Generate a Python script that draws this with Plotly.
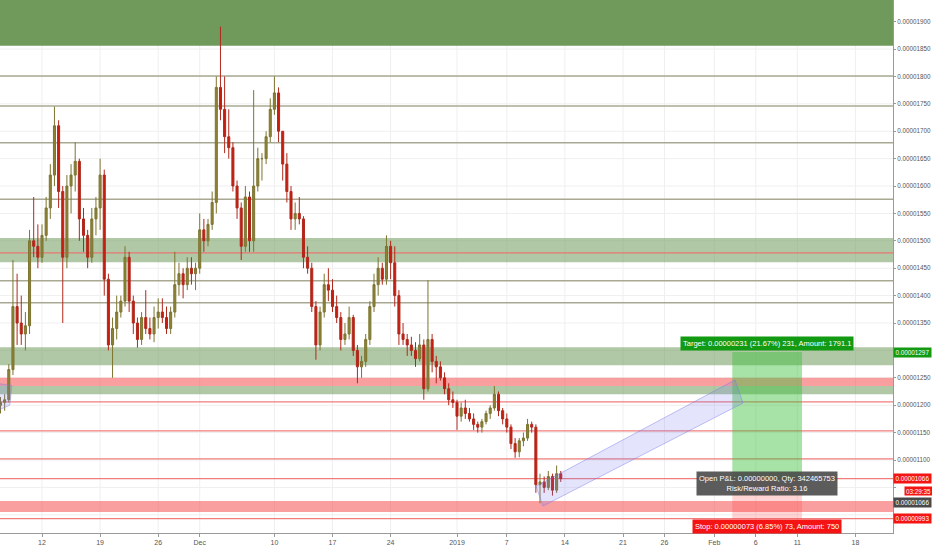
import pandas as pd
import plotly.graph_objects as go

# 12h candles, prices in satoshi (1e-8)
candle_start = "2018-11-07 00:00"
opens = [1200, 1205, 1210, 1265, 1380, 1350, 1330, 1345, 1500, 1490, 1470, 1510, 1560, 1620, 1710, 1590,
         1470, 1600, 1620, 1645, 1540, 1510, 1470, 1540, 1560, 1620, 1430, 1310, 1340, 1370, 1390, 1470,
         1390, 1350, 1320, 1360, 1340, 1330, 1360, 1370, 1360, 1340, 1370, 1420, 1440, 1420, 1450, 1440,
         1450, 1520, 1500, 1530, 1570, 1780, 1740, 1690, 1670, 1600, 1560, 1490, 1580, 1500, 1600, 1650,
         1650, 1690, 1740, 1770, 1700, 1640, 1590, 1540, 1550, 1540, 1470, 1450, 1380, 1310, 1370, 1420,
         1410, 1380, 1360, 1320, 1330, 1360, 1300, 1270, 1280, 1320, 1380, 1420, 1450, 1430, 1490, 1460,
         1400, 1330, 1320, 1310, 1300, 1285, 1310, 1230, 1320, 1280, 1270, 1250, 1230, 1210, 1205, 1180,
         1195, 1185, 1175, 1165, 1160, 1170, 1185, 1195, 1220, 1190, 1175, 1160, 1130, 1115, 1135, 1140,
         1165, 1160, 1055, 1060, 1050, 1070, 1045, 1075]
highs = [1215, 1220, 1275, 1465, 1440, 1400, 1370, 1520, 1580, 1530, 1530, 1580, 1640, 1745, 1720, 1600,
         1620, 1640, 1680, 1650, 1560, 1520, 1560, 1580, 1650, 1630, 1440, 1360, 1400, 1400, 1490, 1480,
         1400, 1360, 1370, 1410, 1360, 1380, 1395, 1395, 1380, 1380, 1480, 1460, 1450, 1470, 1470, 1460,
         1550, 1540, 1540, 1590, 1800, 1891, 1800, 1740, 1680, 1610, 1570, 1600, 1590, 1775, 1670, 1660,
         1700, 1760, 1800, 1780, 1700, 1660, 1600, 1570, 1580, 1545, 1490, 1460, 1390, 1380, 1440, 1450,
         1430, 1400, 1370, 1350, 1380, 1365, 1310, 1290, 1330, 1390, 1440, 1470, 1460, 1510, 1500, 1490,
         1410, 1350, 1330, 1325, 1315, 1330, 1320, 1428, 1330, 1290, 1280, 1260, 1240, 1225, 1210, 1205,
         1210, 1195, 1185, 1170, 1175, 1190, 1200, 1235, 1225, 1195, 1185, 1165, 1140, 1140, 1150, 1175,
         1170, 1165, 1075, 1070, 1080, 1075, 1090, 1080]
lows = [1185, 1190, 1205, 1255, 1310, 1310, 1300, 1330, 1470, 1450, 1460, 1500, 1540, 1600, 1560, 1350,
        1450, 1550, 1590, 1500, 1480, 1450, 1460, 1510, 1520, 1400, 1300, 1250, 1320, 1360, 1380, 1370,
        1330, 1305, 1310, 1330, 1320, 1315, 1340, 1350, 1330, 1330, 1360, 1400, 1395, 1410, 1420, 1410,
        1440, 1480, 1490, 1520, 1550, 1720, 1660, 1650, 1590, 1540, 1465, 1480, 1480, 1480, 1590, 1610,
        1640, 1680, 1730, 1680, 1610, 1570, 1520, 1520, 1530, 1450, 1440, 1370, 1283, 1300, 1360, 1390,
        1370, 1350, 1300, 1310, 1320, 1290, 1240, 1250, 1270, 1310, 1370, 1400, 1420, 1420, 1430, 1380,
        1310, 1310, 1290, 1290, 1270, 1280, 1210, 1225, 1260, 1240, 1245, 1220, 1200, 1195, 1155, 1170,
        1175, 1170, 1155, 1150, 1150, 1165, 1175, 1190, 1180, 1165, 1150, 1120, 1104, 1105, 1125, 1135,
        1150, 1040, 1021, 1040, 1045, 1035, 1040, 1060]
closes = [1205, 1210, 1265, 1380, 1350, 1330, 1345, 1500, 1490, 1470, 1510, 1560, 1620, 1710, 1590, 1470,
          1600, 1620, 1645, 1540, 1510, 1470, 1540, 1560, 1620, 1430, 1310, 1340, 1370, 1390, 1470, 1390,
          1350, 1320, 1360, 1340, 1330, 1360, 1370, 1360, 1340, 1370, 1420, 1440, 1420, 1450, 1440, 1450,
          1520, 1500, 1530, 1570, 1780, 1740, 1690, 1670, 1600, 1560, 1490, 1580, 1500, 1600, 1650, 1650,
          1690, 1740, 1770, 1700, 1640, 1590, 1540, 1550, 1540, 1470, 1450, 1380, 1310, 1370, 1420, 1410,
          1380, 1360, 1320, 1330, 1360, 1300, 1270, 1280, 1320, 1380, 1420, 1450, 1430, 1490, 1460, 1400,
          1330, 1320, 1310, 1300, 1285, 1310, 1230, 1320, 1280, 1270, 1250, 1230, 1210, 1205, 1180, 1195,
          1185, 1175, 1165, 1160, 1170, 1185, 1195, 1220, 1190, 1175, 1160, 1130, 1115, 1135, 1140, 1165,
          1160, 1055, 1060, 1050, 1070, 1045, 1075, 1066]

# drawn levels
grey_levels = [1801, 1746, 1679, 1576, 1427, 1387]
red_levels = [1478, 1206, 1153, 1102, 1066, 993]
green_zones = [(1856, 1990), (1461, 1505), (1273, 1306), (1220, 1235)]
red_zones = [(1235, 1250), (1005, 1025)]

# long position tool
pos_start, pos_end = "2019-02-03 04:00", "2019-02-11 13:40"
pos_mid = "2019-02-07 08:50"
entry, target, stop = 1066, 1297, 993

# channels
channel_x = ["2019-01-10 12:30", "2019-01-11 08:40", "2019-02-04 11:00", "2019-02-03 11:45", "2019-01-10 12:30"]
channel_y = [1052, 1016, 1204, 1246, 1052]
old_channel_x = ["2018-11-06 00:00", "2018-11-08 09:00", "2018-11-08 03:00", "2018-11-06 00:00", "2018-11-06 00:00"]
old_channel_y = [1241, 1236, 1200, 1186, 1241]

x_tick_dates = ["2018-11-12", "2018-11-19", "2018-11-26", "2018-12-01", "2018-12-10", "2018-12-17",
                "2018-12-24", "2019-01-01", "2019-01-07", "2019-01-14", "2019-01-21", "2019-01-26",
                "2019-02-01", "2019-02-06", "2019-02-11", "2019-02-18"]
x_tick_text = ["12", "19", "26", "Dec", "10", "17", "24", "2019", "7", "14", "21", "26",
               "Feb", "6", "11", "18"]
y_tick_vals = list(range(1000, 1951, 50))
hidden_ticks = [1000, 1050, 1300]  # covered by price labels
y_tick_text = ["" if v in hidden_ticks else f"0.{v:08d}" for v in y_tick_vals]

FONT = "Liberation Sans, Arial, sans-serif"
GRID = "#efefef"
times = pd.date_range(candle_start, periods=len(closes), freq="12h")

fig = go.Figure()
fig.add_trace(go.Candlestick(
    x=times, open=opens, high=highs, low=lows, close=closes,
    increasing=dict(line=dict(color="#7c7430", width=1), fillcolor="#8e8233"),
    decreasing=dict(line=dict(color="#b0281c", width=1), fillcolor="#c81d0e"),
    whiskerwidth=0, hoverinfo="skip", showlegend=False))

fig.add_trace(go.Scatter(x=old_channel_x, y=old_channel_y, mode="lines", fill="toself",
                         fillcolor="rgba(120,120,240,0.2)", line=dict(color="rgba(120,120,230,0.4)", width=1),
                         hoverinfo="skip", showlegend=False))
fig.add_trace(go.Scatter(x=channel_x, y=channel_y, mode="lines", fill="toself",
                         fillcolor="rgba(120,120,240,0.2)", line=dict(color="rgba(120,120,230,0.45)", width=1),
                         hoverinfo="skip", showlegend=False))

shapes = []
# grid drawn as shapes so the zones cover it
for d in x_tick_dates:
    shapes.append(dict(type="line", xref="x", x0=d, x1=d, yref="paper", y0=0, y1=1,
                       line=dict(color=GRID, width=1), layer="below"))
for v in y_tick_vals:
    shapes.append(dict(type="line", xref="paper", x0=0, x1=1, yref="y", y0=v, y1=v,
                       line=dict(color=GRID, width=1), layer="below"))
for i, (lo, hi) in enumerate(green_zones):
    col = "#6f9a5b" if i == 0 else "rgba(111,154,91,0.55)"
    shapes.append(dict(type="rect", xref="paper", x0=0, x1=1, yref="y", y0=lo, y1=hi,
                       fillcolor=col, line_width=0, layer="below"))
for lo, hi in red_zones:
    shapes.append(dict(type="rect", xref="paper", x0=0, x1=1, yref="y", y0=lo, y1=hi,
                       fillcolor="rgba(246,80,80,0.55)", line_width=0, layer="below"))
# long position zones
shapes.append(dict(type="rect", xref="x", x0=pos_start, x1=pos_end, yref="y", y0=entry, y1=target,
                   fillcolor="rgba(60,190,60,0.45)", line_width=0, layer="below"))
shapes.append(dict(type="rect", xref="x", x0=pos_start, x1=pos_end, yref="y", y0=stop, y1=entry,
                   fillcolor="rgba(255,60,60,0.22)", line_width=0, layer="below"))
for lv in grey_levels:
    shapes.append(dict(type="line", xref="paper", x0=0, x1=1, yref="y", y0=lv, y1=lv,
                       line=dict(color="rgba(160,160,135,0.9)", width=1.5), layer="below"))
for lv in red_levels:
    shapes.append(dict(type="line", xref="paper", x0=0, x1=1, yref="y", y0=lv, y1=lv,
                       line=dict(color="rgba(238,110,110,0.9)", width=1.3), layer="below"))
fig.update_layout(shapes=shapes)

# position labels
fig.add_annotation(x=pos_mid, y=1312, text="Target: 0.00000231 (21.67%) 231, Amount: 1791.1",
                   showarrow=False, bgcolor="#129a12", borderpad=2,
                   font=dict(family=FONT, size=7.5, color="white"))
fig.add_annotation(x=pos_mid, y=979, text="Stop: 0.00000073 (6.85%) 73, Amount: 750",
                   showarrow=False, bgcolor="#f41414", borderpad=2,
                   font=dict(family=FONT, size=7.5, color="white"))
fig.add_annotation(x=pos_mid, y=1057, text="Open P&amp;L: 0.00000000, Qty: 342465753<br>Risk/Reward Ratio: 3.16",
                   showarrow=False, bgcolor="rgba(70,70,70,0.88)", borderpad=2,
                   font=dict(family=FONT, size=7.5, color="white"))

# price-axis labels
axis_labels = [(1297, "0.00001297", "#129a12"), (1066, "0.00001066", "#f41414"),
               (1022, "0.00001066", "#4a4a4a"), (993, "0.00000993", "#f41414")]
for yv, txt, col in axis_labels:
    fig.add_annotation(xref="paper", x=1, xanchor="left", y=yv, yref="y", text=txt,
                       showarrow=False, bgcolor=col, width=37, height=9, borderpad=0,
                       font=dict(family=FONT, size=6.3, color="white"))
fig.add_annotation(xref="paper", x=1.012, xanchor="left", y=1043, yref="y", text="03:29:35",
                   showarrow=False, bgcolor="#f41414", width=27, height=8, borderpad=0,
                   font=dict(family=FONT, size=6.3, color="white"))

fig.update_layout(
    width=932, height=550,
    margin=dict(l=0, r=39, t=0, b=17),
    paper_bgcolor="white", plot_bgcolor="white",
    showlegend=False,
    xaxis=dict(type="date", range=["2018-11-06 22:33", "2019-02-22 12:40"],
               rangeslider=dict(visible=False),
               tickvals=x_tick_dates, ticktext=x_tick_text,
               tickfont=dict(family=FONT, size=7, color="#555"),
               ticks="outside", ticklen=3, tickcolor="#999",
               showgrid=False,
               showline=True, linecolor="#9a9a9a", linewidth=1, zeroline=False, automargin=False),
    yaxis=dict(side="right", range=[966.8, 1939.5],
               tickvals=y_tick_vals, ticktext=y_tick_text,
               tickfont=dict(family=FONT, size=6.3, color="#555"),
               ticks="outside", ticklen=2, tickcolor="#999", ticklabelstandoff=0,
               showgrid=False,
               showline=True, linecolor="#9a9a9a", linewidth=1, zeroline=False, automargin=False),
)

fig.write_html("out.html", config={"displayModeBar": False},
               post_script="document.body.style.margin='0';")
